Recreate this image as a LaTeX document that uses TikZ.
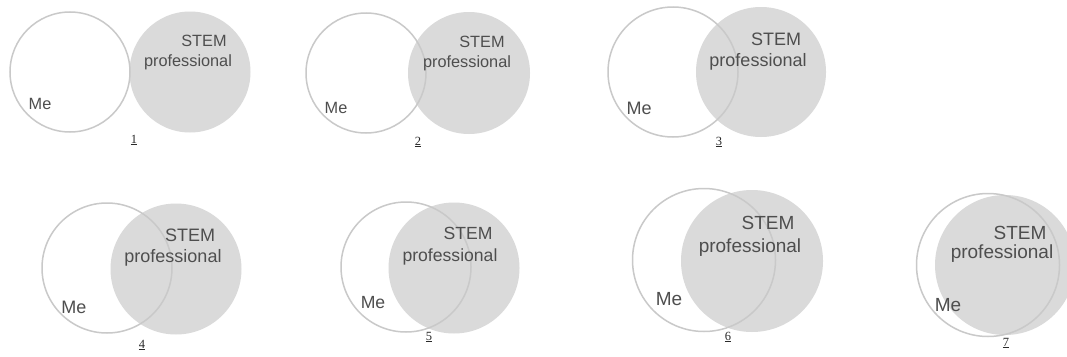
\documentclass[tikz,border=0pt]{standalone}
\usepackage{fontspec}
\setmainfont{Liberation Sans}
\newfontfamily\numfont{Liberation Serif}
\definecolor{stemfill}{HTML}{DADADA}
\definecolor{mestroke}{HTML}{C9C9C9}
\definecolor{txtgray}{HTML}{4E4E4E}
\definecolor{numcol}{HTML}{2A2A2A}
\tikzset{
  stemc/.style={circle, fill=stemfill, inner sep=0pt},
  mec/.style={circle, draw=mestroke, line width=1.5pt, inner sep=0pt},
  lbl/.style={text=txtgray, inner sep=0pt},
  numlbl/.style={text=numcol, inner sep=0pt, font=\numfont\fontsize{12.5}{13}\selectfont},
}
\newcommand{\fs}[1]{\fontsize{#1}{#1}\selectfont}
\begin{document}
\begin{tikzpicture}[x=1pt,y=-1pt]
\useasboundingbox[fill=white] (0,0) rectangle (1067,356);
% Panel 1
\node[stemc, minimum size=121pt] (s1) at (190,72) {};
\node[mec, minimum size=120pt] (m1) at (70,72) {};
\node[lbl, font=\fs{16.3}] (ta1) at (204,41) {STEM};
\node[lbl, font=\fs{16.3}] (tb1) at (188,62) {professional};
\node[lbl, font=\fs{16.3}] (me1) at (40,104) {Me};
\node[numlbl] (n1) at (134,140) {\underline{1}};
% Panel 2
\node[stemc, minimum size=122pt] (s2) at (469,73) {};
\node[mec, minimum size=120pt] (m2) at (366,73) {};
\node[lbl, font=\fs{16.3}] (ta2) at (482,42) {STEM};
\node[lbl, font=\fs{16.3}] (tb2) at (467,63) {professional};
\node[lbl, font=\fs{16.3}] (me2) at (336,108) {Me};
\node[numlbl] (n2) at (418,142) {\underline{2}};
% Panel 3
\node[stemc, minimum size=130pt] (s3) at (761,72) {};
\node[mec, minimum size=130pt] (m3) at (673,72) {};
\node[lbl, font=\fs{18}] (ta3) at (776,39) {STEM};
\node[lbl, font=\fs{18}] (tb3) at (758,62) {professional};
\node[lbl, font=\fs{18}] (me3) at (639,108) {Me};
\node[numlbl] (n3) at (719,142) {\underline{3}};
% Panel 4
\node[stemc, minimum size=131pt] (s4) at (176,269) {};
\node[mec, minimum size=130pt] (m4) at (107,268) {};
\node[lbl, font=\fs{18}] (ta4) at (190,235) {STEM};
\node[lbl, font=\fs{18}] (tb4) at (173,258) {professional};
\node[lbl, font=\fs{18}] (me4) at (74,307) {Me};
\node[numlbl] (n4) at (142,345) {\underline{4}};
% Panel 5
\node[stemc, minimum size=131pt] (s5) at (454,268) {};
\node[mec, minimum size=130pt] (m5) at (406,267) {};
\node[lbl, font=\fs{17.6}] (ta5) at (468,233) {STEM};
\node[lbl, font=\fs{17.6}] (tb5) at (450,257) {professional};
\node[lbl, font=\fs{17.6}] (me5) at (373,303) {Me};
\node[numlbl] (n5) at (429,337) {\underline{5}};
% Panel 6
\node[stemc, minimum size=142pt] (s6) at (752,261) {};
\node[mec, minimum size=143pt] (m6) at (704,260) {};
\node[lbl, font=\fs{19}] (ta6) at (768,223) {STEM};
\node[lbl, font=\fs{19}] (tb6) at (750,248) {professional};
\node[lbl, font=\fs{19}] (me6) at (669,299) {Me};
\node[numlbl] (n6) at (728,337) {\underline{6}};
% Panel 7
\node[stemc, minimum size=140pt] (s7) at (1005,265) {};
\node[mec, minimum size=143pt] (m7) at (988,265) {};
\node[lbl, font=\fs{19}] (ta7) at (1020,233) {STEM};
\node[lbl, font=\fs{19}] (tb7) at (1002,254) {professional};
\node[lbl, font=\fs{19}] (me7) at (948,305) {Me};
\node[numlbl] (n7) at (1006,343) {\underline{7}};
\end{tikzpicture}
\end{document}
